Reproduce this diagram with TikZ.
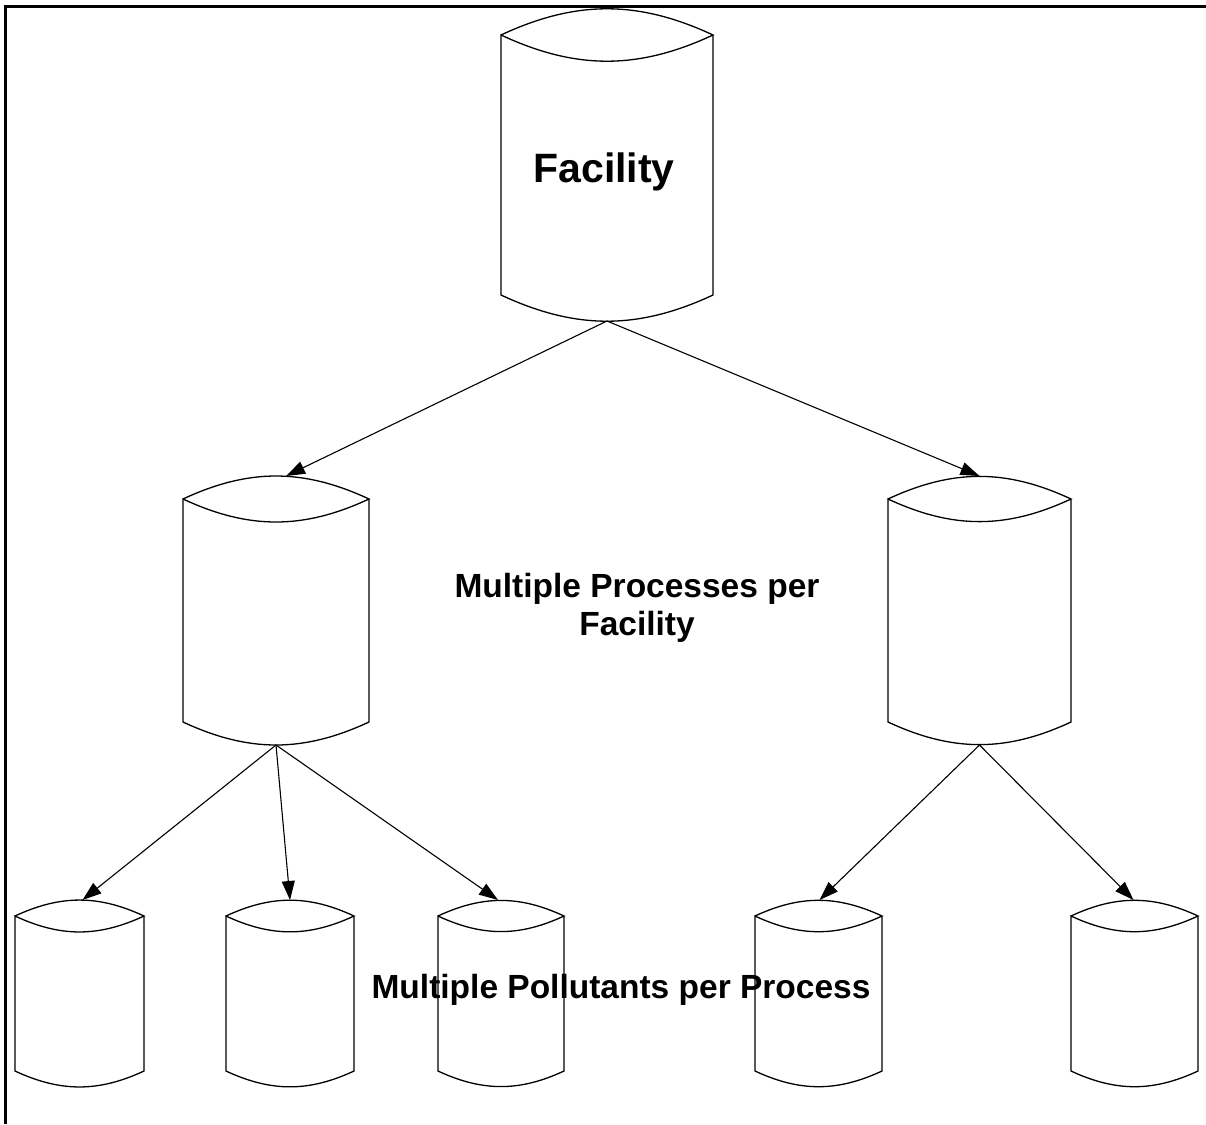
\documentclass[tikz,border=0pt]{standalone}
\usepackage{fontspec}
\setmainfont{Liberation Sans}
\usetikzlibrary{arrows.meta}
\tikzset{
  cylline/.style={draw=black, line width=1.3pt},
  link/.style={draw=black, line width=1.1pt, -{Triangle[length=19pt,width=13pt]}},
  bigtext/.style={font=\fontsize{41}{49}\selectfont\bfseries, inner sep=0pt},
  midtext/.style={font=\fontsize{33.5}{38}\selectfont\bfseries, inner sep=0pt, align=center},
}
% name, xleft, xright, ycorner-top, ycorner-bottom, sag
\newcommand\mycyl[6]{%
  \coordinate (#1-t) at ({(#2+#3)/2},{#4-#6});
  \coordinate (#1-b) at ({(#2+#3)/2},{#5+#6});
  \draw[cylline] (#2,#4) to[bend left=25] (#3,#4) to[bend left=25] (#2,#4)
     -- (#2,#5) to[bend right=25] (#3,#5) -- (#3,#4);
}
\begin{document}
\begin{tikzpicture}[x=1pt,y=-1pt]
\useasboundingbox (0,0) rectangle (1206,1124);
% frame (top and left edges)
\draw[line width=3.5pt] (5.5,1124) -- (5.5,6.5) -- (1206,6.5);

\mycyl{fac}{501}{713}{35}{295}{26}
\mycyl{pl}{183}{369}{499}{722}{23}
\mycyl{pr}{888}{1071}{499}{722}{23}
\mycyl{b1}{15}{144}{916}{1071}{16}
\mycyl{b2}{226}{354}{916}{1071}{16}
\mycyl{b3}{438}{564}{916}{1071}{16}
\mycyl{b4}{755}{882}{916}{1071}{16}
\mycyl{b5}{1071}{1198}{916}{1071}{16}

\draw[link] (fac-b) -- ([xshift=10pt]pl-t);
\draw[link] (fac-b) -- (pr-t);
\draw[link] (pl-b) -- ([xshift=3pt]b1-t);
\draw[link] (pl-b) -- (b2-t);
\draw[link] (pl-b) -- ([xshift=-3pt]b3-t);
\draw[link] (pr-b) -- ([xshift=1pt]b4-t);
\draw[link] (pr-b) -- ([xshift=-1pt]b5-t);

\node[bigtext, anchor=base] (factext) at (604,182) {Facility};
\node[midtext, anchor=base] (proctext) at (637,635) {Multiple Processes per\\Facility};
\node[midtext, anchor=base] (polltext) at (621,998) {Multiple Pollutants per Process};
\end{tikzpicture}
\end{document}
